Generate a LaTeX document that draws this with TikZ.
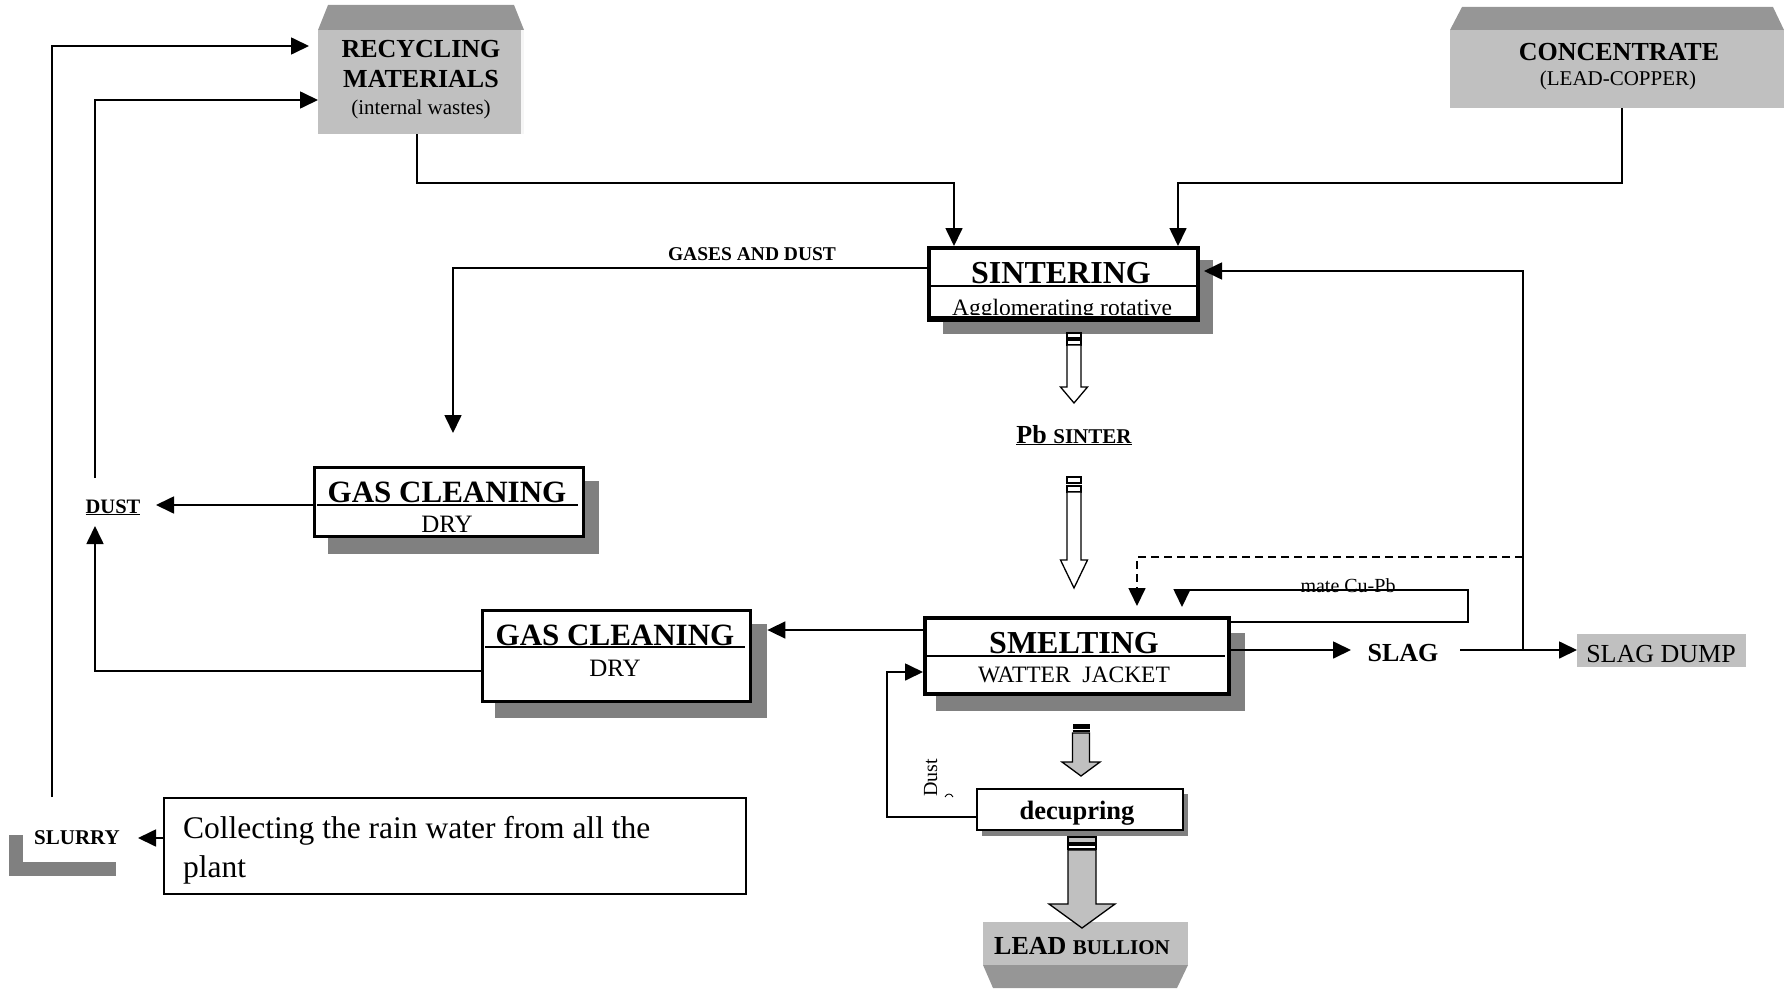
\documentclass[tikz,border=0pt]{standalone}
\usepackage{fontspec}
\setmainfont{Liberation Serif}
\usetikzlibrary{arrows.meta}
\definecolor{lgray}{RGB}{192,192,192}
\definecolor{mgray}{RGB}{150,150,150}
\definecolor{sgray}{RGB}{128,128,128}
\newcommand\fsz[2]{\fontsize{#1}{#2}\selectfont}
% block arrow: cx, ystart, yhead, ytip, halfshaft, halfhead, fill
\newcommand\blockarr[7]{%
  \draw[line width=1.3pt, fill=#7] ({#1-#5},#2) -- ({#1-#5},#3) -- ({#1-#6},#3) -- (#1,#4)
     -- ({#1+#6},#3) -- ({#1+#5},#3) -- ({#1+#5},#2) -- cycle;}
\begin{document}
\begin{tikzpicture}[x=1pt,y=-1pt,
  conn/.style={line width=1.7pt},
  arr/.style={conn,-{Triangle[length=18pt,width=17pt]}},
  boxnode/.style={draw, inner sep=0pt, anchor=north west, fill=white},
  shadownode/.style={fill=sgray, draw=none, inner sep=0pt, anchor=north west},
  graynode/.style={fill=lgray, draw=none, inner sep=0pt, anchor=north west},
  lbl/.style={inner sep=0pt, anchor=base},
]
\path[use as bounding box] (0,0) rectangle (1786,990);

% ---------- RECYCLING MATERIALS ----------
\fill[mgray] (318,30) -- (328,5) -- (514,5) -- (524,30) -- cycle;
\node[graynode, minimum width=206pt, minimum height=104pt] (recyc) at (318,30) {};
\fill[white!85!lgray] (521,30) rectangle (524,134);
\node[lbl] (trec1) at (421,58) {\fsz{26}{30}\bfseries RECYCLING};
\node[lbl] (trec2) at (421,88) {\fsz{26}{30}\bfseries MATERIALS};
\node[lbl] (trec3) at (421,114) {\fsz{21}{25}(internal wastes)};

% ---------- CONCENTRATE ----------
\fill[mgray] (1450,30) -- (1462,7) -- (1773,7) -- (1784,30) -- cycle;
\node[graynode, minimum width=334pt, minimum height=78pt] (conc) at (1450,30) {};
\node[lbl] (tconc1) at (1619,61) {\fsz{26}{30}\bfseries CONCENTRATE};
\node[lbl] (tconc2) at (1618,85) {\fsz{21}{25}(LEAD-COPPER)};

% ---------- SINTERING ----------
\node[shadownode, minimum width=270pt, minimum height=74pt] (sints) at (943,260) {};
\node[boxnode, line width=4pt, minimum width=269pt, minimum height=70pt] (sint) at (927,246) {};
\begin{scope}
  \clip (929,248) rectangle (1194,314);
  \node[lbl] (tsint2) at (1062,315) {\fsz{23.5}{27}Agglomerating rotative};
\end{scope}
\draw[line width=4pt] (sint.south west) -- (sint.south east);
\draw[line width=1.8pt] (929,286) -- (1196,286);
\node[lbl] (tsint1) at (1061,283) {\fsz{32}{36}\bfseries SINTERING};

% ---------- GAS CLEANING 1 ----------
\node[shadownode, minimum width=271pt, minimum height=73pt] (gas1s) at (328,481) {};
\node[boxnode, line width=2.5pt, minimum width=269pt, minimum height=69pt] (gas1) at (313,466) {};
\draw[line width=1.8pt] (317,505) -- (578,505);
\node[lbl] (tgas1a) at (447,502) {\fsz{31}{35}\bfseries GAS CLEANING};
\node[lbl] (tgas1b) at (447,532) {\fsz{25}{29}DRY};

% ---------- GAS CLEANING 2 ----------
\node[shadownode, minimum width=272pt, minimum height=94pt] (gas2s) at (495,624) {};
\node[boxnode, line width=2.5pt, minimum width=268pt, minimum height=91pt] (gas2) at (481,609) {};
\draw[line width=1.8pt] (485,647) -- (745,647);
\node[lbl] (tgas2a) at (615,645) {\fsz{31}{35}\bfseries GAS CLEANING};
\node[lbl] (tgas2b) at (615,676) {\fsz{25}{29}DRY};

% ---------- SMELTING ----------
\node[shadownode, minimum width=309pt, minimum height=78pt] (smelts) at (936,633) {};
\node[boxnode, line width=4pt, minimum width=304pt, minimum height=76pt] (smelt) at (923,616) {};
\draw[line width=1.8pt] (925,656) -- (1225,656);
\node[lbl] (tsm1) at (1074,653) {\fsz{32}{36}\bfseries SMELTING};
\node[lbl] (tsm2) at (1074,682) {\fsz{23.5}{27}WATTER\ \ JACKET};

% ---------- DECUPRING ----------
\node[shadownode, minimum width=206pt, minimum height=42pt] (decs) at (982,794) {};
\node[boxnode, line width=1.5pt, minimum width=206pt, minimum height=41pt] (dec) at (976,788) {};
\node[lbl] (tdec) at (1077,819) {\fsz{26.5}{30}\bfseries decupring};

% ---------- LEAD BULLION ----------
\fill[mgray] (983,965) -- (1188,965) -- (1177,988) -- (993,988) -- cycle;
\node[graynode, minimum width=205pt, minimum height=43pt] (lead) at (983,922) {};
\node[lbl] (tlead) at (1082,954) {\fsz{26}{30}\bfseries LEAD \fsz{21}{25}BULLION};

% ---------- SLAG DUMP ----------
\node[graynode, minimum width=169pt, minimum height=33pt] (dump) at (1577,634) {};
\node[lbl] (tdump) at (1661,662) {\fsz{26}{30}SLAG DUMP};

% ---------- RAIN WATER ----------
\node[boxnode, line width=2pt, fill=none, minimum width=582pt, minimum height=96pt] (rain) at (163,797) {};
\node[inner sep=0pt, anchor=base west] (train1) at (183,838) {\fsz{31.5}{37}Collecting the rain water from all the};
\node[inner sep=0pt, anchor=base west] (train2) at (183,877) {\fsz{31.5}{37}plant};

% ---------- SLURRY ----------
\fill[sgray] (9,862) rectangle (116,876);
\fill[sgray] (9,835) rectangle (23,876);
\node[lbl] (slurry) at (77,844) {\fsz{21}{25}\bfseries SLURRY};

% ---------- small labels ----------
\node[lbl] (dust) at (113,513) {\fsz{20.5}{24}\bfseries\underline{DUST}};
\node[lbl] (pbs) at (1074,443) {\fsz{26}{30}\bfseries\underline{Pb \fsz{21}{25}SINTER}};
\node[lbl] (gad) at (752,260) {\fsz{19.5}{23}\bfseries GASES AND DUST};
\node[lbl] (mate) at (1348,592) {\fsz{20}{24}mate Cu-Pb};
\node[lbl] (slag) at (1403,661) {\fsz{26}{30}\bfseries SLAG};
\node[lbl, rotate=90] (tdust) at (937,778) {\fsz{20}{24}Dust};
\draw[line width=0.9pt] (945,797) .. controls (947,793) and (951,793) .. (953,797);

% ---------- block arrows ----------
% sintering -> Pb sinter (hollow)
\draw[line width=1.2pt] (1067,333) rectangle (1081,338);
\draw[line width=1.2pt] (1067,340) rectangle (1081,345);
\blockarr{1074}{345}{387}{403}{7}{13.5}{white}
% Pb sinter -> smelting (hollow)
\draw[line width=1.2pt] (1067,477) rectangle (1081,483);
\draw[line width=1.2pt] (1067,486) rectangle (1081,492);
\blockarr{1074}{492}{560}{588}{7}{13.5}{white}
% smelting -> decupring (gray)
\fill (1072.5,724) rectangle (1089.5,729);
\draw[line width=1.2pt] (1072.5,731) -- (1089.5,731);
\blockarr{1081}{733}{762}{776}{8.5}{19}{lgray}
% decupring -> lead bullion (gray)
\draw[line width=1.2pt, fill=lgray] (1068,837) rectangle (1096,843);
\draw[line width=1.2pt] (1068,845) rectangle (1096,849);
\blockarr{1082}{850}{904}{928}{14}{33}{lgray}

% ---------- connectors ----------
\coordinate (b1) at (417,183);
\coordinate (b2) at (954,183);
\draw[arr] (b1 |- recyc.south) -- (b1) -- (b2) -- (b2 |- sint.north);

\coordinate (b3) at (1622,183);
\coordinate (b4) at (1178,183);
\draw[arr] (b3 |- conc.south) -- (b3) -- (b4) -- (b4 |- sint.north);

\coordinate (b5) at (453,268);
\coordinate (e3) at (453,433);
\draw[arr] (sint.west |- b5) -- (b5) -- (e3);

\coordinate (b6) at (1523,271);
\coordinate (b7) at (1523,650);
\draw[arr] (b7) -- (b6) -- ([xshift=4pt]sint.east |- b6);

\coordinate (b8) at (1523,557);
\coordinate (b9) at (1137,557);
\coordinate (e5) at (1137,606);
\draw[arr, dash pattern=on 8pt off 5pt] (b8) -- (b9) -- (e5);

\coordinate (b10) at (1468,622);
\coordinate (b11) at (1468,590);
\coordinate (b12) at (1182,590);
\coordinate (e6) at (1182,607);
\draw[arr] (smelt.east |- b10) -- (b10) -- (b11) -- (b12) -- (e6);

\coordinate (b13) at (923,630);
\draw[arr] (smelt.west |- b13) -- (gas2s.east |- b13);

\coordinate (b14) at (95,671);
\coordinate (e8) at (95,526);
\draw[arr] (gas2.west |- b14) -- (b14) -- (e8);

\coordinate (e9) at (156,505);
\draw[arr] (gas1.west |- e9) -- (e9);

\coordinate (s10) at (95,478);
\coordinate (b15) at (95,100);
\draw[arr] (s10) -- (b15) -- (recyc.west |- b15);

\coordinate (s11) at (52,797);
\coordinate (b16) at (52,46);
\coordinate (e11) at (309,46);
\draw[arr] (s11) -- (b16) -- (e11);

\coordinate (e12) at (138,838);
\draw[arr] (rain.west |- e12) -- (e12);

\coordinate (e13) at (1351,650);
\draw[arr] (smelt.east |- e13) -- (e13);

\coordinate (s14) at (1460,650);
\draw[arr] (s14) -- (dump.west |- s14);

\coordinate (b17) at (887,817);
\coordinate (b18) at (887,672);
\draw[arr] (dec.west |- b17) -- (b17) -- (b18) -- (smelt.west |- b18);
\end{tikzpicture}
\end{document}
